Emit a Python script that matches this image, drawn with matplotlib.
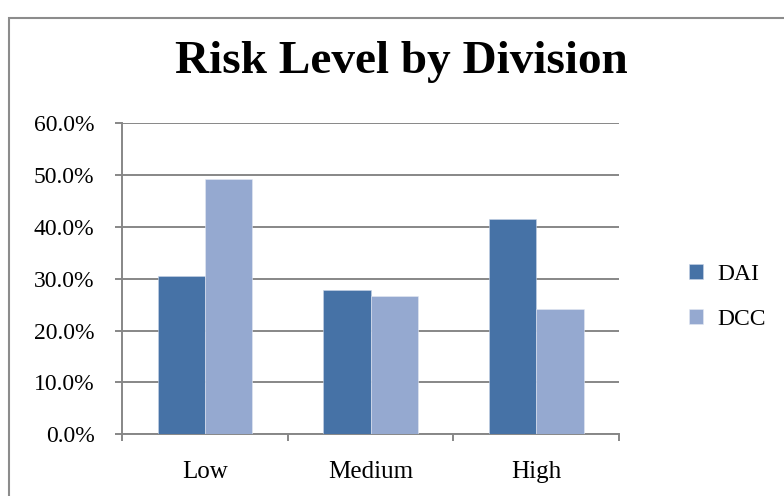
import numpy as np
import matplotlib
matplotlib.use("Agg")
import matplotlib.pyplot as plt
from matplotlib.patches import Rectangle
from matplotlib.ticker import FuncFormatter, FixedLocator

categories = ["Low", "Medium", "High"]
dai = [30.5, 27.8, 41.5]
dcc = [49.3, 26.6, 24.2]
series_names = ["DAI", "DCC"]
y_ticks = [0, 10, 20, 30, 40, 50, 60]

plt.rcParams['font.family'] = ['Liberation Serif', 'DejaVu Serif']

fig = plt.figure(figsize=(7.84, 4.96), dpi=100)
W, H = 784, 496

# outer chart frame (runs off the right and bottom edges)
fig.patches.append(Rectangle((9 / W, -0.1), 1.2, (H - 18) / H + 0.1,
                             transform=fig.transFigure, fill=False,
                             edgecolor="#8c8c8c", linewidth=1.5))

ax = fig.add_axes([122.3 / W, 1 - 434.3 / H, (619 - 122.3) / W, (434.3 - 123.3) / H])

grid_c = "#878787"
x = np.arange(len(categories))
bw = 1 / 3.5
ax.bar(x - bw / 2, dai, bw, color="#4672A6", edgecolor="#c8d3e6", linewidth=0.4,
       label=series_names[0], zorder=3)
ax.bar(x + bw / 2, dcc, bw, color="#95A9D0", edgecolor="#e4e9f3", linewidth=0.4,
       label=series_names[1], zorder=3)

ax.set_xlim(-0.5, len(categories) - 0.5)
ax.set_ylim(0, 60)
ax.yaxis.set_major_locator(FixedLocator(y_ticks))
ax.yaxis.set_major_formatter(FuncFormatter(lambda v, p: f"{v:.1f}%"))
ax.yaxis.grid(True, color=grid_c, linewidth=1.4, zorder=1)

# category ticks sit between the groups
ax.set_xticks(np.arange(-0.5, len(categories), 1.0))
ax.set_xticklabels([])
ax.set_xticks(x, minor=True)
ax.set_xticklabels(categories, minor=True)
ax.tick_params(axis="x", which="minor", length=0, pad=19, labelsize=18)
ax.tick_params(axis="x", which="major", length=5, width=1.4, color=grid_c, direction="out")
ax.tick_params(axis="y", length=5, width=1.4, color=grid_c, direction="out",
               labelsize=17, pad=15)

for s in ["top", "right"]:
    ax.spines[s].set_visible(False)
for s in ["left", "bottom"]:
    ax.spines[s].set_color(grid_c)
    ax.spines[s].set_linewidth(1.4)

fig.text(401 / W, 1 - 62 / H, "Risk Level by Division", ha="center", va="center",
         fontsize=34, fontweight="bold")

leg = fig.legend(loc="center left", bbox_to_anchor=(689 / W, 1 - 297 / H),
                 frameon=False, fontsize=17, handlelength=0.6, handleheight=0.6,
                 handletextpad=0.6, labelspacing=1.0, borderpad=0, borderaxespad=0)

fig.savefig("out.png", dpi=100)
